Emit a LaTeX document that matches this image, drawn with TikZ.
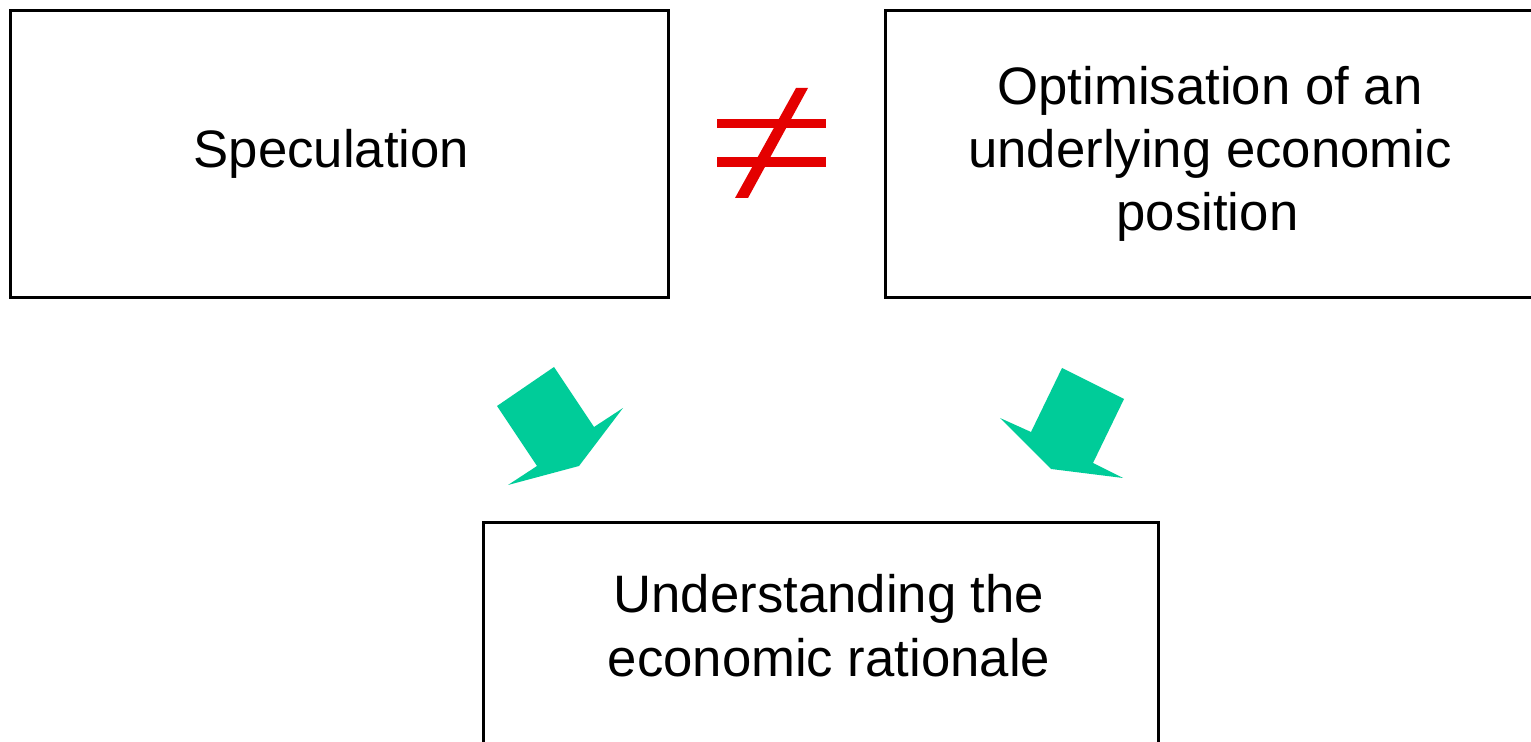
\documentclass[tikz,border=0pt]{standalone}
\usepackage{fontspec}
\setmainfont{Liberation Sans}
\usepackage{xcolor}
\usetikzlibrary{positioning}

\definecolor{arrowgreen}{RGB}{0,204,153}
\definecolor{neqred}{RGB}{228,0,0}

\begin{document}
\begin{tikzpicture}[
        x=0.02cm, y=-0.02cm,
        box/.style={rectangle, draw=black, line width=1.7pt, fill=white, inner sep=0pt, align=center, font=\fontsize{30}{36}\selectfont},
        blockarrow/.style={fill=arrowgreen, draw=none},
        neqbar/.style={fill=neqred, draw=none}
    ]
        \clip (0,0) rectangle (1531,742);
        \fill[white] (0,0) rectangle (1531,742);

        % Nodes
        \node[box, minimum width=13.18cm, minimum height=5.76cm] (spec) at (339.5,154) {Speculation\hspace*{0.32cm}};
        \node[box, minimum width=13cm, minimum height=5.76cm] (optim) at (1210,154) {Optimisation of an\\ underlying economic\\ position\hspace*{0.1cm}};
        \node[box, minimum width=13.52cm, minimum height=4.6cm] (rationale) at (821,637) {\hspace*{0.32cm}Understanding the\\ \hspace*{0.32cm}economic rationale\\[-0.8cm]\mbox{}};

        % Not equal sign
        \fill[neqbar] (717,119) rectangle (826,128);
        \fill[neqbar] (717,157) rectangle (826,167);
        \fill[neqbar] (796,88) -- (808,88) -- (748,198) -- (735,198) -- cycle;

        % Paths
        \fill[blockarrow] (497,406) -- (554,367) -- (594,427) -- (623,408) -- (579,466) -- (508,485) -- (537,466) -- cycle;
        \fill[blockarrow] (1062,368) -- (1124,399) -- (1093,463) -- (1123,478) -- (1051,469) -- (1000,418) -- (1031,432) -- cycle;
    \end{tikzpicture}
\end{document}
